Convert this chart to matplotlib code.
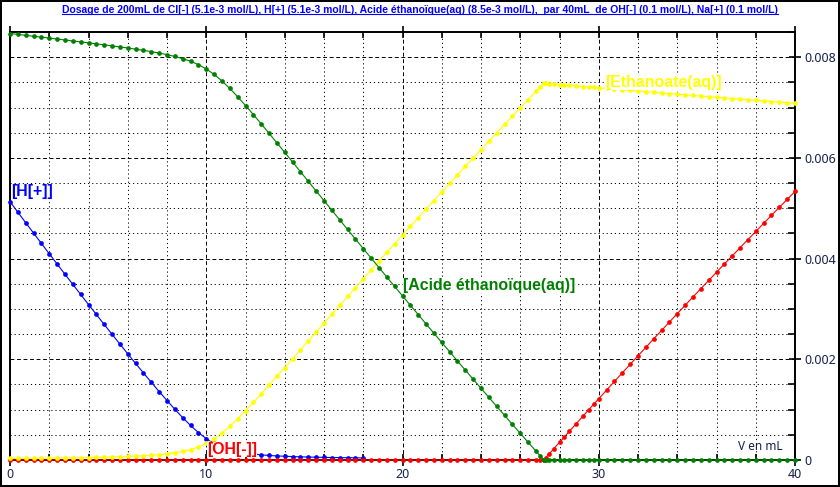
import numpy as np
import matplotlib
matplotlib.use('Agg')
import matplotlib.pyplot as plt
from matplotlib.ticker import MultipleLocator, FuncFormatter
from matplotlib.lines import Line2D

# ---------------- data (concentrations in mmol/L, volume in mL) ----------------
volume_ml = [0.0, 0.4, 0.8, 1.2, 1.6, 2.0, 2.4, 2.8, 3.2, 3.6, 4.0, 4.4, 4.8, 5.2, 5.6,
             6.0, 6.4, 6.8, 7.2, 7.6, 8.0, 8.4, 8.8, 9.2, 9.6, 10.0, 10.4, 10.8, 11.2,
             11.6, 12.0, 12.4, 12.8, 13.2, 13.6, 14.0, 14.4, 14.8, 15.2, 15.6, 16.0,
             16.4, 16.8, 17.2, 17.6, 18.0, 18.4, 18.8, 19.2, 19.6, 20.0, 20.4, 20.8,
             21.2, 21.6, 22.0, 22.4, 22.8, 23.2, 23.6, 24.0, 24.4, 24.8, 25.2, 25.6,
             26.0, 26.4, 26.8, 27.0, 27.2, 27.3, 27.45, 27.7, 28.0, 28.25, 28.5, 28.85,
             29.2, 29.5, 29.75, 30.0, 30.4, 30.8, 31.2, 31.6, 32.0, 32.4, 32.8, 33.2,
             33.6, 34.0, 34.4, 34.8, 35.2, 35.6, 36.0, 36.4, 36.8, 37.2, 37.6, 38.0,
             38.4, 38.8, 39.2, 39.6, 40.0]

# [H+] : drawn up to 18 mL
h_plus = [5.130, 4.921, 4.713, 4.507, 4.301, 4.096, 3.893, 3.690, 3.488, 3.288, 3.088,
          2.890, 2.692, 2.497, 2.302, 2.109, 1.918, 1.729, 1.543, 1.359, 1.181, 1.007,
          0.841, 0.686, 0.545, 0.425, 0.330, 0.260, 0.205, 0.165, 0.137, 0.117, 0.102,
          0.090, 0.081, 0.074, 0.068, 0.063, 0.059, 0.055, 0.052, 0.049, 0.047, 0.045,
          0.043, 0.041]

# [Acide éthanoïque(aq)]
acide = [8.470, 8.452, 8.434, 8.415, 8.398, 8.379, 8.360, 8.342, 8.323, 8.304, 8.285,
         8.265, 8.245, 8.225, 8.203, 8.182, 8.159, 8.136, 8.110, 8.082, 8.050, 8.014,
         7.971, 7.918, 7.852, 7.766, 7.658, 7.528, 7.378, 7.214, 7.040, 6.860, 6.676,
         6.488, 6.299, 6.108, 5.917, 5.725, 5.534, 5.343, 5.151, 4.960, 4.769, 4.579,
         4.388, 4.199, 4.010, 3.822, 3.633, 3.446, 3.259, 3.073, 2.888, 2.702, 2.518,
         2.335, 2.151, 1.968, 1.786, 1.605, 1.424, 1.244, 1.064, 0.886, 0.707, 0.529,
         0.353, 0.176, 0.088, 0.003, 0.0, 0.0, 0.0, 0.0, 0.0, 0.0, 0.0, 0.0, 0.0, 0.0,
         0.0, 0.0, 0.0, 0.0, 0.0, 0.0, 0.0, 0.0, 0.0, 0.0, 0.0, 0.0, 0.0, 0.0, 0.0,
         0.0, 0.0, 0.0, 0.0, 0.0, 0.0, 0.0, 0.0, 0.0, 0.0, 0.0]

# [Ethanoate(aq)]
ethanoate = [0.030, 0.031, 0.032, 0.034, 0.035, 0.037, 0.039, 0.041, 0.043, 0.046, 0.049,
             0.052, 0.055, 0.060, 0.065, 0.070, 0.077, 0.085, 0.095, 0.107, 0.123, 0.143,
             0.171, 0.208, 0.259, 0.329, 0.422, 0.537, 0.671, 0.820, 0.979, 1.144, 1.313,
             1.486, 1.660, 1.836, 2.012, 2.189, 2.366, 2.542, 2.719, 2.896, 3.072, 3.248,
             3.424, 3.599, 3.774, 3.948, 4.122, 4.295, 4.468, 4.640, 4.812, 4.983, 5.153,
             5.323, 5.493, 5.662, 5.830, 5.998, 6.165, 6.332, 6.498, 6.663, 6.828, 6.993,
             7.156, 7.320, 7.401, 7.480, 7.479, 7.474, 7.466, 7.456, 7.448, 7.440, 7.428,
             7.417, 7.407, 7.399, 7.391, 7.379, 7.366, 7.353, 7.340, 7.328, 7.315, 7.302,
             7.290, 7.277, 7.265, 7.253, 7.240, 7.228, 7.216, 7.203, 7.191, 7.179, 7.167,
             7.155, 7.143, 7.131, 7.119, 7.107, 7.095, 7.083]

# [OH-]
oh_minus = [0.0, 0.0, 0.0, 0.0, 0.0, 0.0, 0.0, 0.0, 0.0, 0.0, 0.0, 0.0, 0.0, 0.0, 0.0,
            0.0, 0.0, 0.0, 0.0, 0.0, 0.0, 0.0, 0.0, 0.0, 0.0, 0.0, 0.0, 0.0, 0.0, 0.0,
            0.0, 0.0, 0.0, 0.0, 0.0, 0.0, 0.0, 0.0, 0.0, 0.0, 0.0, 0.0, 0.0, 0.0, 0.0,
            0.0, 0.0, 0.0, 0.0, 0.0, 0.0, 0.0, 0.0, 0.0, 0.0, 0.0, 0.0, 0.0, 0.0, 0.0,
            0.0, 0.0, 0.0, 0.0, 0.0, 0.0, 0.0, 0.0, 0.0, 0.002, 0.044, 0.110, 0.220,
            0.351, 0.460, 0.569, 0.721, 0.873, 1.002, 1.110, 1.217, 1.389, 1.560, 1.730,
            1.900, 2.069, 2.238, 2.406, 2.573, 2.740, 2.906, 3.072, 3.237, 3.401, 3.565,
            3.729, 3.892, 4.054, 4.216, 4.377, 4.538, 4.698, 4.858, 5.017, 5.175, 5.333]

x_ticks = [0, 10, 20, 30, 40]
y_ticks = [0, 0.002, 0.004, 0.006, 0.008]
title = ("Dosage de 200mL de Cl[-] (5.1e-3 mol/L), H[+] (5.1e-3 mol/L), "
         "Acide éthanoïque(aq) (8.5e-3 mol/L),  par 40mL  de OH[-] (0.1 mol/L), "
         "Na[+] (0.1 mol/L)")

plt.rcParams['font.family'] = ['Noto Sans', 'DejaVu Sans']
BOLD_FAMILY = ['Liberation Sans', 'DejaVu Sans']
TITLE_FAMILY = ['Liberation Sans', 'DejaVu Sans']

# ---------------- figure ----------------
W, H = 840, 487
fig = plt.figure(figsize=(W / 100, H / 100), dpi=100)
fig.patch.set_facecolor('white')
fig.patch.set_edgecolor('black')
fig.patch.set_linewidth(2.6)

ax = fig.add_axes([10 / W, 27 / H, 785 / W, 428 / H])
ax.set_facecolor('white')
ax.set_xlim(0, 40)
ax.set_ylim(0, 0.0085)

ax.xaxis.set_major_locator(MultipleLocator(10))
ax.xaxis.set_minor_locator(MultipleLocator(2))
ax.yaxis.set_major_locator(MultipleLocator(0.002))
ax.yaxis.set_minor_locator(MultipleLocator(0.0005))
ax.set_xticks(x_ticks)
ax.set_yticks(y_ticks)
ax.yaxis.set_major_formatter(FuncFormatter(lambda v, p: '0' if abs(v) < 1e-12 else f'{v:.3f}'))

ax.grid(which='major', color='black', lw=0.7, linestyle=(0, (4, 2.7)))
ax.grid(which='minor', color='black', lw=0.7, linestyle=(0, (1.2, 3.0)))
ax.set_axisbelow(True)

for s in ax.spines.values():
    s.set_linewidth(1.4)
    s.set_color('black')

tick_col = '#14204a'
ax.yaxis.tick_right()
ax.tick_params(axis='x', which='major', direction='inout', length=9, width=1.2,
               top=True, bottom=True, labelsize=9, labelcolor=tick_col, pad=1.5)
ax.tick_params(axis='x', which='minor', direction='in', length=4.5, width=1.2,
               top=True, bottom=True)
ax.tick_params(axis='y', which='major', direction='inout', length=9, width=1.2,
               right=True, left=False, labelsize=9, labelcolor=tick_col, pad=2)
ax.tick_params(axis='y', which='minor', direction='in', length=5, width=1.2,
               right=True, left=False)

V = np.array(volume_ml)
sc = 1e-3
kw = dict(lw=0.8, marker='o', ms=3.4, mew=0, clip_on=False, zorder=3)
ax.plot(V[:len(h_plus)], np.array(h_plus) * sc, color='#0000ff', **kw)
ax.plot(V, np.array(oh_minus) * sc, color='#ff0000', **kw)
ax.plot(V, np.array(ethanoate) * sc, color='#ffff00', **kw)
ax.plot(V, np.array(acide) * sc, color='#008000', **kw)

lab = dict(fontsize=10, fontweight='bold', family=BOLD_FAMILY, va='center', ha='left',
           zorder=6, bbox=dict(facecolor='white', edgecolor='none', pad=0.0))
t_h = ax.text(0.05, 0.005342, '[H[+]]', color='#0000ff', **lab)
t_e = ax.text(30.32, 0.007505, '[Ethanoate(aq)]', color='#ffff00', **lab)
t_a = ax.text(20.03, 0.003475, '[Acide éthanoïque(aq)]', color='#008000', **lab)
t_o = ax.text(10.04, 0.000218, '[OH[-]]', color='#ff0000', **lab)
ax.text(37.1, 0.000278, 'V en mL', color=tick_col, fontsize=8.5, va='center', ha='left', zorder=6)

t = fig.text(0.5, 1 - 10 / H, title, ha='center', va='center', color='#0000ff',
             fontsize=7, fontweight='bold', family=TITLE_FAMILY)
fig.canvas.draw()
r = fig.canvas.get_renderer()
# fit title width and label size to the reference extents
bb = t.get_window_extent(r)
t.set_fontsize(7 * 722.0 / bb.width)
ba = t_a.get_window_extent(r)
fs = 10 * 172.0 / ba.width
for tt in (t_h, t_e, t_a, t_o):
    tt.set_fontsize(fs)
fig.canvas.draw()
bb = t.get_window_extent(r)
yline = (bb.y0 + 1.0) / H
fig.add_artist(Line2D([bb.x0 / W, bb.x1 / W], [yline, yline], transform=fig.transFigure,
                      color='#0000ff', lw=0.8))

fig.savefig('out.png', dpi=100, facecolor='white', edgecolor='black')
